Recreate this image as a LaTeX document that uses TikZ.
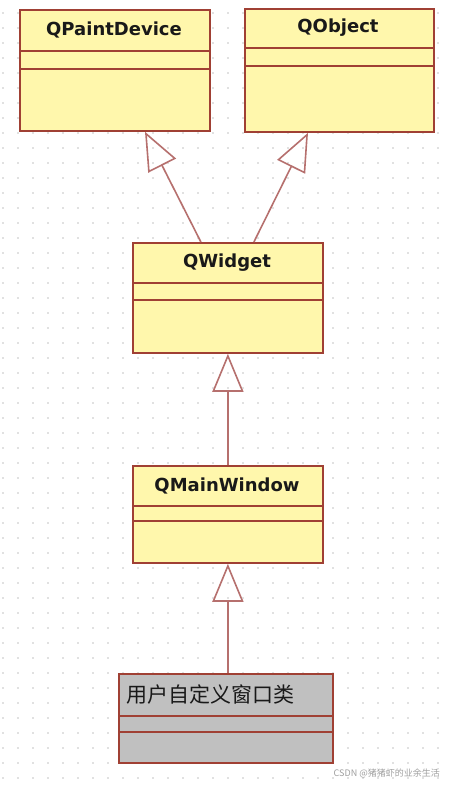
\documentclass[tikz,border=0pt]{standalone}
\usepackage{fontspec}
\setmainfont{DejaVu Sans}
\newfontfamily\cjk{Noto Sans CJK SC}
\usetikzlibrary{arrows.meta}
\definecolor{boxfill}{RGB}{255,247,172}
\definecolor{boxline}{RGB}{160,64,52}
\definecolor{arrline}{RGB}{182,112,110}
\definecolor{grayfill}{RGB}{192,192,192}
\definecolor{dotc}{RGB}{195,195,195}
\begin{document}
\begin{tikzpicture}[x=1pt,y=-1pt,
 cls/.style={draw=boxline, line width=1.8pt, fill=boxfill, anchor=north west, inner sep=0pt},
 sep/.style={draw=boxline, line width=1.8pt},
 title/.style={font=\bfseries\fontsize{18}{20}\selectfont, text=black!90, inner sep=0pt},
 cjktitle/.style={font=\cjk\fontsize{21}{23}\selectfont, text=black!90, inner sep=0pt, anchor=west},
 inherit/.style={draw=arrline, line width=1.6pt, -{Triangle[open, length=38pt, width=31pt, line width=1.6pt]}},
]
\useasboundingbox (0,0) rectangle (449,785);
\fill[white] (0,0) rectangle (449,785);
\foreach \i in {0,...,29} \foreach \j in {0,...,52} \fill[dotc] (3+15*\i, 13+15*\j) circle (0.8);

% classes
\node[cls, minimum width=190, minimum height=121] (pd) at (19,9) {};
\draw[sep] ([yshift=-42pt]pd.north west) -- ([yshift=-42pt]pd.north east);
\draw[sep] ([yshift=-60pt]pd.north west) -- ([yshift=-60pt]pd.north east);
\node[title] (pdt) at (114,30) {QPaintDevice};

\node[cls, minimum width=189, minimum height=123] (qo) at (244,8) {};
\draw[sep] ([yshift=-40pt]qo.north west) -- ([yshift=-40pt]qo.north east);
\draw[sep] ([yshift=-58pt]qo.north west) -- ([yshift=-58pt]qo.north east);
\node[title] (qot) at (338,28) {QObject};

\node[cls, minimum width=190, minimum height=110] (qw) at (132,242) {};
\draw[sep] ([yshift=-41pt]qw.north west) -- ([yshift=-41pt]qw.north east);
\draw[sep] ([yshift=-58pt]qw.north west) -- ([yshift=-58pt]qw.north east);
\node[title] (qwt) at (227,263) {QWidget};

\node[cls, minimum width=190, minimum height=97] (qm) at (132,465) {};
\draw[sep] ([yshift=-41pt]qm.north west) -- ([yshift=-41pt]qm.north east);
\draw[sep] ([yshift=-56pt]qm.north west) -- ([yshift=-56pt]qm.north east);
\node[title] (qmt) at (227,486) {QMainWindow};

\node[cls, fill=grayfill, minimum width=214, minimum height=89] (us) at (118,673) {};
\draw[sep] ([yshift=-43pt]us.north west) -- ([yshift=-43pt]us.north east);
\draw[sep] ([yshift=-59pt]us.north west) -- ([yshift=-59pt]us.north east);
\node[cjktitle] (ust) at (126,694) {用户自定义窗口类};

% inheritance
\draw[inherit] ([xshift=-27pt]qw.north) -- ([xshift=126pt]pd.south west);
\draw[inherit] ([xshift=26pt]qw.north) -- ([xshift=64pt]qo.south west);
\draw[inherit] (qm.north) -- (qw.south);
\draw[inherit] (us.north -| qm.south) -- (qm.south);

\node[anchor=east, text=gray!75, font=\cjk\fontsize{9}{10}\selectfont, inner sep=0pt] (wm) at (440,773) {CSDN @猪猪虾的业余生活};
\end{tikzpicture}
\end{document}
